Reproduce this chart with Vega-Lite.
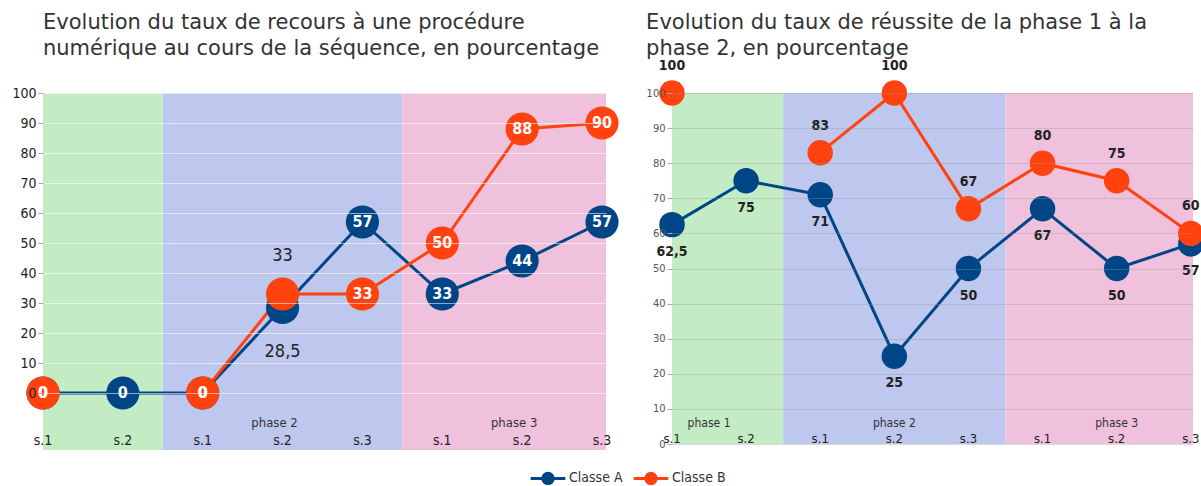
{
  "$schema": "https://vega.github.io/schema/vega-lite/v6.json",
  "background": "white",
  "padding": {"left": 11, "top": 12, "right": 0, "bottom": 0},
  "config": {
    "locale": {"number": {"decimal": ",", "thousands": " ", "grouping": [3], "currency": ["", " €"]}},
    "view": {"stroke": null},
    "font": "'Liberation Sans Narrow', 'DejaVu Sans Condensed', sans-serif",
    "title": {"font": "DejaVu Sans", "fontSize": 21, "fontWeight": "normal", "color": "#333333", "anchor": "start", "lineHeight": 26},
    "concat": {"spacing": 27}
  },
  "datasets": {
    "phases": [
      {"phase": "phase 1", "start": -0.5, "end": 1.5},
      {"phase": "phase 2", "start": 1.5, "end": 4.5},
      {"phase": "phase 3", "start": 4.5, "end": 7.5}
    ],
    "recours": [
      {"classe": "Classe A", "phase": "phase 1", "session": "s.1", "idx": 0, "taux": 0},
      {"classe": "Classe A", "phase": "phase 1", "session": "s.2", "idx": 1, "taux": 0},
      {"classe": "Classe A", "phase": "phase 2", "session": "s.1", "idx": 2, "taux": 0},
      {"classe": "Classe A", "phase": "phase 2", "session": "s.2", "idx": 3, "taux": 28.5},
      {"classe": "Classe A", "phase": "phase 2", "session": "s.3", "idx": 4, "taux": 57},
      {"classe": "Classe A", "phase": "phase 3", "session": "s.1", "idx": 5, "taux": 33},
      {"classe": "Classe A", "phase": "phase 3", "session": "s.2", "idx": 6, "taux": 44},
      {"classe": "Classe A", "phase": "phase 3", "session": "s.3", "idx": 7, "taux": 57},
      {"classe": "Classe B", "phase": "phase 1", "session": "s.1", "idx": 0, "taux": 0},
      {"classe": "Classe B", "phase": "phase 1", "session": "s.2", "idx": 1, "taux": null},
      {"classe": "Classe B", "phase": "phase 2", "session": "s.1", "idx": 2, "taux": 0},
      {"classe": "Classe B", "phase": "phase 2", "session": "s.2", "idx": 3, "taux": 33},
      {"classe": "Classe B", "phase": "phase 2", "session": "s.3", "idx": 4, "taux": 33},
      {"classe": "Classe B", "phase": "phase 3", "session": "s.1", "idx": 5, "taux": 50},
      {"classe": "Classe B", "phase": "phase 3", "session": "s.2", "idx": 6, "taux": 88},
      {"classe": "Classe B", "phase": "phase 3", "session": "s.3", "idx": 7, "taux": 90}
    ],
    "reussite": [
      {"classe": "Classe A", "phase": "phase 1", "session": "s.1", "idx": 0, "taux": 62.5},
      {"classe": "Classe A", "phase": "phase 1", "session": "s.2", "idx": 1, "taux": 75},
      {"classe": "Classe A", "phase": "phase 2", "session": "s.1", "idx": 2, "taux": 71},
      {"classe": "Classe A", "phase": "phase 2", "session": "s.2", "idx": 3, "taux": 25},
      {"classe": "Classe A", "phase": "phase 2", "session": "s.3", "idx": 4, "taux": 50},
      {"classe": "Classe A", "phase": "phase 3", "session": "s.1", "idx": 5, "taux": 67},
      {"classe": "Classe A", "phase": "phase 3", "session": "s.2", "idx": 6, "taux": 50},
      {"classe": "Classe A", "phase": "phase 3", "session": "s.3", "idx": 7, "taux": 57},
      {"classe": "Classe B", "phase": "phase 1", "session": "s.1", "idx": 0, "taux": 100},
      {"classe": "Classe B", "phase": "phase 1", "session": "s.2", "idx": 1, "taux": null},
      {"classe": "Classe B", "phase": "phase 2", "session": "s.1", "idx": 2, "taux": 83},
      {"classe": "Classe B", "phase": "phase 2", "session": "s.2", "idx": 3, "taux": 100},
      {"classe": "Classe B", "phase": "phase 2", "session": "s.3", "idx": 4, "taux": 67},
      {"classe": "Classe B", "phase": "phase 3", "session": "s.1", "idx": 5, "taux": 80},
      {"classe": "Classe B", "phase": "phase 3", "session": "s.2", "idx": 6, "taux": 75},
      {"classe": "Classe B", "phase": "phase 3", "session": "s.3", "idx": 7, "taux": 60}
    ]
  },
  "resolve": {"scale": {"color": "shared"}, "legend": {"color": "shared"}},
  "hconcat": [
    {
      "width": 563,
      "height": 357,
      "title": {"text": ["Evolution du taux de recours à une procédure", "numérique au cours de la séquence, en pourcentage"], "frame": "group", "offset": 27},
      "layer": [
        {
          "data": {"name": "phases"},
          "mark": {"type": "rect", "clip": true},
          "encoding": {
            "x": {"field": "start", "type": "quantitative", "scale": {"domain": [0, 7.05], "nice": false, "zero": false}, "axis": null},
            "x2": {"field": "end"},
            "fill": {"field": "phase", "type": "nominal", "scale": {"domain": ["phase 1", "phase 2", "phase 3"], "range": ["#c4ecc4", "#bec7ed", "#efc1dd"]}, "legend": null}
          }
        },
        {
          "data": {"name": "recours"},
          "encoding": {
            "x": {"field": "idx", "type": "quantitative", "axis": null},
            "y": {"field": "taux", "type": "quantitative", "scale": {"domain": [-19, 100], "nice": false, "zero": false},
              "axis": {"title": null, "values": [0, 10, 20, 30, 40, 50, 60, 70, 80, 90, 100], "grid": true, "gridColor": "#ffffff", "gridOpacity": 0.55, "zindex": 1, "domain": false, "tickSize": 5, "tickColor": "#aaaaaa", "labelFontSize": 14, "labelColor": "#222222", "labelPadding": 2, "labelOverlap": false}},
            "color": {"field": "classe", "type": "nominal", "scale": {"domain": ["Classe A", "Classe B"], "range": ["#004586", "#ff420e"]},
              "legend": {"title": null, "orient": "none", "direction": "horizontal", "legendX": 486, "legendY": 366, "symbolType": "M-1,0L1,0M0.3,0A0.3,0.3,0,1,1,-0.3,0A0.3,0.3,0,1,1,0.3,0Z", "symbolSize": 1200, "symbolStrokeWidth": 3, "labelFontSize": 14, "labelColor": "#333333", "labelOffset": 2, "columnPadding": 4,
                "encode": {"symbols": {"update": {"fill": {"scale": "color", "field": "value"}, "stroke": {"scale": "color", "field": "value"}, "strokeWidth": {"value": 3}, "opacity": {"value": 1}}}}}}
          },
          "layer": [
            {"mark": {"type": "line", "strokeWidth": 3}},
            {"mark": {"type": "circle", "size": 1100, "opacity": 1}},
            {
              "transform": [{"filter": "datum.idx != 3"}],
              "mark": {"type": "text", "fontWeight": "bold", "fontSize": 16, "baseline": "middle", "align": "center"},
              "encoding": {
                "color": {"value": "white"},
                "text": {"field": "taux", "type": "quantitative"}
              }
            },
            {
              "transform": [{"filter": "datum.idx == 3 && datum.classe == 'Classe B'"}],
              "mark": {"type": "text", "fontSize": 18, "baseline": "middle", "align": "center", "dy": -38},
              "encoding": {
                "color": {"value": "#222222"},
                "text": {"field": "taux", "type": "quantitative"}
              }
            },
            {
              "transform": [{"filter": "datum.idx == 3 && datum.classe == 'Classe A'"}],
              "mark": {"type": "text", "fontSize": 18, "baseline": "middle", "align": "center", "dy": 44},
              "encoding": {
                "color": {"value": "#222222"},
                "text": {"field": "taux", "type": "quantitative"}
              }
            },
            {
              "transform": [{"filter": "datum.classe == 'Classe A'"}],
              "mark": {"type": "text", "fontSize": 14, "baseline": "alphabetic", "align": "center", "dy": -5},
              "encoding": {
                "y": {"datum": -19},
                "color": {"value": "#222222"},
                "text": {"field": "session", "type": "nominal"}
              }
            }
          ]
        },
        {
          "data": {"name": "recours"},
          "transform": [
            {"filter": "datum.classe == 'Classe A' && datum.phase != 'phase 1'"},
            {"aggregate": [{"op": "mean", "field": "idx", "as": "mid"}], "groupby": ["phase"]}
          ],
          "mark": {"type": "text", "fontSize": 13, "baseline": "alphabetic", "align": "center", "dy": -23, "dx": -8, "color": "#333333"},
          "encoding": {
            "x": {"field": "mid", "type": "quantitative"},
            "y": {"datum": -19,
              "axis": {"title": null, "values": [0, 10, 20, 30, 40, 50, 60, 70, 80, 90, 100], "grid": true, "gridColor": "#ffffff", "gridOpacity": 0.55, "zindex": 1, "domain": false, "tickSize": 5, "tickColor": "#aaaaaa", "labelFontSize": 14, "labelColor": "#222222", "labelPadding": 2, "labelOverlap": false}},
            "text": {"field": "phase", "type": "nominal"}
          }
        }
      ]
    },
    {
      "width": 521,
      "height": 351,
      "title": {"text": ["Evolution du taux de réussite de la phase 1 à la", "phase 2, en pourcentage"], "frame": "bounds", "offset": 0},
      "layer": [
        {
          "data": {"name": "phases"},
          "mark": {"type": "rect", "clip": true},
          "encoding": {
            "x": {"field": "start", "type": "quantitative", "scale": {"domain": [0, 7.03], "nice": false, "zero": false}, "axis": null},
            "x2": {"field": "end"},
            "fill": {"field": "phase", "type": "nominal", "scale": {"domain": ["phase 1", "phase 2", "phase 3"], "range": ["#c4ecc4", "#bec7ed", "#efc1dd"]}, "legend": null}
          }
        },
        {
          "data": {"name": "reussite"},
          "encoding": {
            "x": {"field": "idx", "type": "quantitative", "axis": null},
            "y": {"field": "taux", "type": "quantitative", "scale": {"domain": [0, 100], "nice": false},
              "axis": {"title": null, "values": [0, 10, 20, 30, 40, 50, 60, 70, 80, 90, 100], "grid": true, "gridColor": "#999999", "gridOpacity": 0.35, "zindex": 1, "domain": false, "tickSize": 5, "tickColor": "#aaaaaa", "labelFontSize": 11, "labelColor": "#555555", "labelPadding": 2, "labelOverlap": false}},
            "color": {"field": "classe", "type": "nominal",
              "legend": {"title": null, "orient": "none", "direction": "horizontal", "legendX": 486, "legendY": 366, "symbolType": "M-1,0L1,0M0.3,0A0.3,0.3,0,1,1,-0.3,0A0.3,0.3,0,1,1,0.3,0Z", "symbolSize": 1200, "symbolStrokeWidth": 3, "labelFontSize": 14, "labelColor": "#333333", "labelOffset": 2, "columnPadding": 4,
                "encode": {"symbols": {"update": {"fill": {"scale": "color", "field": "value"}, "stroke": {"scale": "color", "field": "value"}, "strokeWidth": {"value": 3}, "opacity": {"value": 1}}}}}}
          },
          "layer": [
            {"mark": {"type": "line", "strokeWidth": 3}},
            {"mark": {"type": "circle", "size": 650, "opacity": 1}},
            {
              "transform": [{"filter": "datum.classe == 'Classe B'"}],
              "mark": {"type": "text", "fontWeight": "bold", "fontSize": 14, "baseline": "middle", "align": "center", "dy": -27},
              "encoding": {
                "color": {"value": "#222222"},
                "text": {"field": "taux", "type": "quantitative"}
              }
            },
            {
              "transform": [{"filter": "datum.classe == 'Classe A'"}],
              "mark": {"type": "text", "fontWeight": "bold", "fontSize": 14, "baseline": "middle", "align": "center", "dy": 27},
              "encoding": {
                "color": {"value": "#222222"},
                "text": {"field": "taux", "type": "quantitative"}
              }
            },
            {
              "transform": [{"filter": "datum.classe == 'Classe A'"}],
              "mark": {"type": "text", "fontSize": 13, "baseline": "alphabetic", "align": "center", "dy": -1},
              "encoding": {
                "y": {"datum": 0},
                "color": {"value": "#222222"},
                "text": {"field": "session", "type": "nominal"}
              }
            }
          ]
        },
        {
          "data": {"name": "reussite"},
          "transform": [
            {"filter": "datum.classe == 'Classe A'"},
            {"aggregate": [{"op": "mean", "field": "idx", "as": "mid"}], "groupby": ["phase"]}
          ],
          "mark": {"type": "text", "fontSize": 12, "baseline": "alphabetic", "align": "center", "dy": -17, "dx": 0, "color": "#333333"},
          "encoding": {
            "x": {"field": "mid", "type": "quantitative"},
            "y": {"datum": 0,
              "axis": {"title": null, "values": [0, 10, 20, 30, 40, 50, 60, 70, 80, 90, 100], "grid": true, "gridColor": "#999999", "gridOpacity": 0.35, "zindex": 1, "domain": false, "tickSize": 5, "tickColor": "#aaaaaa", "labelFontSize": 11, "labelColor": "#555555", "labelPadding": 2, "labelOverlap": false}},
            "text": {"field": "phase", "type": "nominal"}
          }
        }
      ]
    }
  ]
}
